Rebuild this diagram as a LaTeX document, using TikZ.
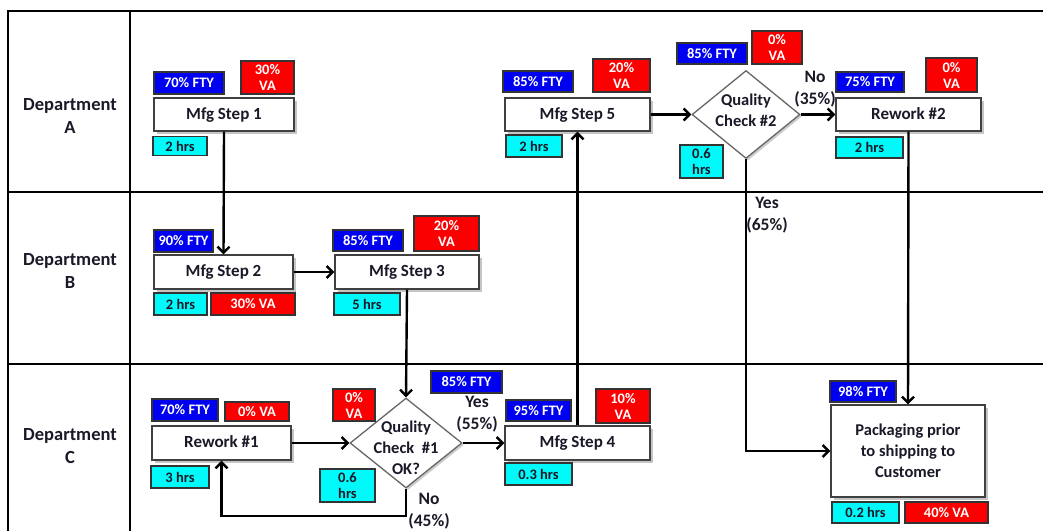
\documentclass[tikz,border=0pt]{standalone}
\usepackage{fontspec}
\setmainfont{Carlito}
\usetikzlibrary{arrows.meta,shapes.geometric,shadows}
\definecolor{ink}{RGB}{25,25,40}
\definecolor{ftyblue}{RGB}{0,0,240}
\definecolor{vared}{RGB}{250,0,0}
\definecolor{hrcyan}{RGB}{0,250,250}
\tikzset{
  x=1pt, y=-1pt,
  sz/.style 2 args={minimum width=#1pt, minimum height=#2pt},
  grid/.style={line width=2.8pt, black},
  stepbox/.style={draw=black!75, line width=1.3pt, fill=white, inner sep=0pt,
    font=\fontsize{17}{20}\selectfont\bfseries, text=ink, align=center,
    text height=11pt, text depth=2pt,
    drop shadow={shadow xshift=2.5pt, shadow yshift=-2.5pt, fill=black!45, opacity=0.5}},
  check/.style={diamond, draw=black!60, line width=1.3pt, fill=white, inner sep=0pt,
    drop shadow={shadow xshift=2pt, shadow yshift=-2pt, fill=black!40, opacity=0.5}},
  checktext/.style={font=\fontsize{16.5}{21}\selectfont\bfseries, text=ink, align=center, inner sep=0pt},
  tag/.style={draw=black!80, line width=1.1pt, inner sep=0pt, align=center,
    font=\fontsize{14.5}{16}\selectfont\bfseries},
  fty/.style={tag, fill=ftyblue, text=white},
  va/.style={tag, fill=vared, text=white},
  hrs/.style={tag, fill=hrcyan, text=ink},
  dept/.style={font=\fontsize{18.5}{23}\selectfont\bfseries, text=ink, align=center},
  answer/.style={font=\fontsize{17.5}{22}\selectfont\bfseries, text=ink, align=center},
  flow/.style={line width=2.4pt, black, -{Straight Barb[length=6pt, width=12pt, line width=2.4pt]}},
}
\begin{document}
\begin{tikzpicture}
\useasboundingbox (0,0) rectangle (1043,531);
% swimlane frame
\draw[grid] (1043,11) -- (8,11) -- (8,531);
\draw[grid] (130,11) -- (130,531);
\draw[grid] (8,192) -- (1043,192);
\draw[grid] (8,364) -- (1043,364);
\node[dept] (deptA) at (70,116) {Department\\A};
\node[dept] (deptB) at (70,271) {Department\\B};
\node[dept] (deptC) at (70,446) {Department\\C};

% Department A
\node[stepbox, sz={140}{33}] (s1) at (224,114.5) {Mfg Step 1};
\node[fty, sz={70}{22}] (s1f) at (189,83) {70\% FTY};
\node[va, sz={53}{33}] (s1v) at (267.5,77.5) {30\%\\VA};
\node[hrs, sz={54}{19}] (s1h) at (180,146) {2 hrs};

\node[stepbox, sz={145}{33}] (s5) at (577.5,114.5) {Mfg Step 5};
\node[fty, sz={70}{21}] (s5f) at (538,81.5) {85\% FTY};
\node[va, sz={57}{33}] (s5v) at (621.5,75.5) {20\%\\VA};
\node[hrs, sz={56}{22}] (s5h) at (534,146) {2 hrs};

\node[check, sz={108}{88}] (q2) at (746,114.5) {};
\node[checktext] (q2t) at ([yshift=4pt]q2.center) {Quality\\Check \#2};
\node[fty, sz={70}{21}] (q2f) at (712,53.5) {85\% FTY};
\node[va, sz={50}{33}] (q2v) at (777,47.5) {0\%\\VA};
\node[hrs, sz={43}{33}] (q2h) at (701.5,161.5) {0.6\\hrs};

\node[stepbox, sz={145}{33}] (r2) at (908.5,114.5) {Rework \#2};
\node[fty, sz={68}{20}] (r2f) at (870,82) {75\% FTY};
\node[va, sz={51}{34}] (r2v) at (951.5,75) {0\%\\VA};
\node[hrs, sz={67}{21}] (r2h) at (869.5,147.5) {2 hrs};

% Department B
\node[stepbox, sz={139}{34}] (s2) at (223.5,272) {Mfg Step 2};
\node[fty, sz={59}{22}] (s2f) at (183.5,241) {90\% FTY};
\node[hrs, sz={53}{22}] (s2h) at (180.5,304) {2 hrs};
\node[va, sz={84}{22}] (s2v) at (253,304) {30\% VA};

\node[stepbox, sz={144}{34}] (s3) at (407,272) {Mfg Step 3};
\node[fty, sz={70}{21}] (s3f) at (368,240.5) {85\% FTY};
\node[va, sz={65}{35}] (s3v) at (446.5,233.5) {20\%\\VA};
\node[hrs, sz={66}{22}] (s3h) at (367,304) {5 hrs};

% Department C
\node[stepbox, sz={139}{34}] (r1) at (221.5,443) {Rework \#1};
\node[fty, sz={66}{22}] (r1f) at (185,410) {70\% FTY};
\node[va, sz={64}{19}] (r1v) at (257,411.5) {0\% VA};
\node[hrs, sz={58}{22}] (r1h) at (180,477) {3 hrs};

\node[check, sz={112}{90}] (q1) at (406,443) {};
\node[checktext] (q1t) at ([yshift=-5pt]q1.center) {Quality\\Check~~\#1\\OK?};
\node[va, sz={42}{32}] (q1v) at (354,405) {0\%\\VA};
\node[hrs, sz={55}{33}] (q1h) at (347.5,485.5) {0.6\\hrs};
\node[fty, sz={71}{22}] (q1f) at (466.5,382) {85\% FTY};

\node[stepbox, sz={145}{34}] (s4) at (577.5,443) {Mfg Step 4};
\node[fty, sz={65}{21}] (s4f) at (538.5,410.5) {95\% FTY};
\node[va, sz={54}{34}] (s4v) at (623,406) {10\%\\VA};
\node[hrs, sz={67}{22}] (s4h) at (538.5,474) {0.3 hrs};

\node[stepbox, sz={154}{92}, text height=, text depth=, font=\fontsize{16.5}{21}\selectfont\bfseries] (pk) at (908,451) {Packaging prior\\to shipping to\\Customer};
\node[fty, sz={66}{21}] (pkf) at (863,391.5) {98\% FTY};
\node[hrs, sz={67}{21}] (pkh) at (865.5,512.5) {0.2 hrs};
\node[va, sz={83}{21}] (pkv) at (946.5,512.5) {40\% VA};

% decision outcomes
\node[answer] (q1yes) at (477,414.5) {Yes\\(55\%)};
\node[answer] (q1no) at (429,511.5) {No\\(45\%)};
\node[answer] (q2no) at (815,89.5) {No\\(35\%)};
\node[answer] (q2yes) at (767,215) {Yes\\(65\%)};

% flow
\coordinate (loop) at (406,516);
\draw[flow] (s1.south) -- (s2.north);
\draw[flow] (s2.east) -- (s3.west);
\draw[flow] (s3.south) -- (q1.north);
\draw[flow] (r1.east) -- (q1.west);
\draw[flow] (q1.east) -- (s4.west);
\draw[flow] (q1.south) -- (loop) -| (r1.south);
\draw[flow] (s4.north) -- (s5.south);
\draw[flow] (s5.east) -- (q2.west);
\draw[flow] (q2.east) -- (r2.west);
\draw[flow] (q2.south) |- (pk.west);
\draw[flow] (r2.south) -- (pk.north);
\end{tikzpicture}
\end{document}
